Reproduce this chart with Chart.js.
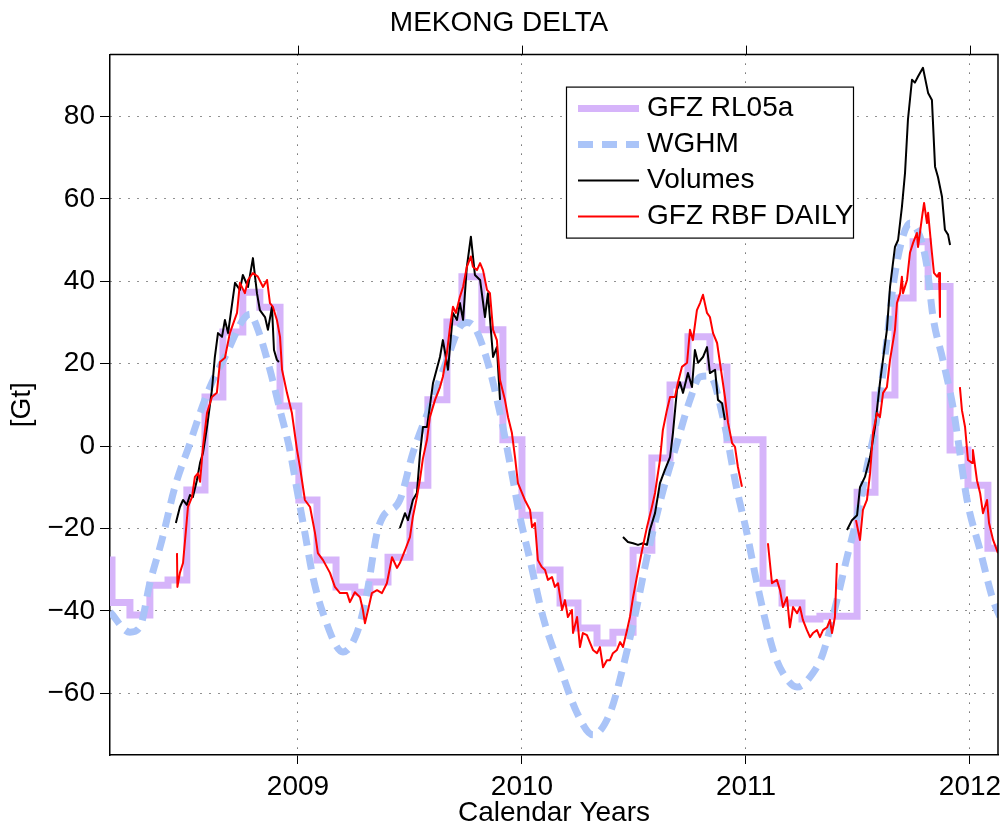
<!DOCTYPE html>
<html>
<head>
<meta charset="utf-8">
<script src="https://cdn.jsdelivr.net/npm/chart.js@4/dist/chart.umd.min.js"></script>
<style>
  html, body { margin: 0; padding: 0; background: #fff; }
  #wrap { width: 1000px; height: 827px; position: relative; }
</style>
</head>
<body>
<div id="wrap"><canvas id="tws"></canvas></div>
<script>
// axis ticks
const xTicks = [2009, 2010, 2011, 2012];
const yTicks = [-60, -40, -20, 0, 20, 40, 60, 80];

// GFZ RL05a monthly solution: start of each month and its value [Gt]
const rl05aYear = [2008.150, 2008.170, 2008.250, 2008.339, 2008.420, 2008.504, 2008.585, 2008.665, 2008.754, 2008.830,
  2008.920, 2009.004, 2009.085, 2009.170, 2009.254, 2009.321, 2009.402, 2009.500, 2009.580, 2009.665,
  2009.732, 2009.821, 2009.915, 2010.000, 2010.080, 2010.170, 2010.250, 2010.335, 2010.406, 2010.496,
  2010.580, 2010.661, 2010.741, 2010.839, 2010.915, 2011.076, 2011.161, 2011.250, 2011.330, 2011.496,
  2011.576, 2011.665, 2011.746, 2011.813, 2011.911, 2011.991, 2012.080, 2012.140];
const rl05aGt = [-27.7, -38, -41, -33.8, -32.5, -10.7, 11.9, 27.7, 37.3, 33.7,
  9.7, -13.1, -27.7, -34.2, -35.5, -33, -27, -9.5, 11.2, 30.1,
  41.1, 28.2, 1.5, -16.8, -30.1, -38.1, -44.2, -47.8, -45.2, -25.3,
  -2.9, 14.8, 26.5, 19.2, 1.5, -33.3, -38.1, -42, -41.3, -11.2,
  12.4, 35.9, 49.6, 38.7, -1, -9.5, -24.8, -24.8];

// WGHM model
const wghmYear = [2008.161, 2008.250, 2008.295, 2008.339, 2008.393, 2008.451, 2008.518, 2008.563, 2008.607, 2008.683,
  2008.754, 2008.786, 2008.817, 2008.875, 2008.920, 2008.964, 2008.996, 2009.031, 2009.067, 2009.112,
  2009.201, 2009.263, 2009.308, 2009.353, 2009.379, 2009.455, 2009.513, 2009.589, 2009.665, 2009.723,
  2009.754, 2009.790, 2009.844, 2009.902, 2009.946, 2009.991, 2010.036, 2010.094, 2010.170, 2010.246,
  2010.317, 2010.393, 2010.451, 2010.513, 2010.558, 2010.629, 2010.692, 2010.750, 2010.795, 2010.839,
  2010.897, 2010.960, 2011.004, 2011.049, 2011.121, 2011.165, 2011.228, 2011.299, 2011.344, 2011.406,
  2011.451, 2011.496, 2011.540, 2011.585, 2011.629, 2011.656, 2011.696, 2011.732, 2011.777, 2011.808,
  2011.835, 2011.879, 2011.924, 2011.942, 2011.987, 2012.045, 2012.103, 2012.134];
const wghmGt = [-40.3, -45.2, -43.9, -33.3, -22.8, -9.9, 0.7, 8, 14.3, 22.6,
  30.6, 32, 28.9, 18.5, 8.7, -1, -10.7, -21.1, -31.8, -40.6,
  -50, -45.4, -35.7, -21.1, -17.2, -13.1, -1.7, 9.5, 20.9, 28.9,
  30, 28.7, 20.9, 8, -4.1, -17.2, -27.7, -41.5, -53.7, -64.8,
  -70.1, -64.8, -53.7, -39, -27, -11, 0.7, 11.2, 16.8, 17,
  7, -10.7, -21.1, -33.3, -49.5, -55.1, -58.5, -55.1, -50.3, -37.4,
  -27, -17.2, -5.1, 7, 25.7, 38.6, 50, 54.1, 50.8, 43.5,
  31.3, 20.9, 9.5, 3.2, -13.1, -25.3, -37.4, -41.5];

// volumes, four flood seasons (null = no data)
const volumesYear = [2008.455, 2008.473, 2008.487, 2008.504, 2008.518, 2008.531, 2008.549, 2008.563, 2008.576, 2008.594,
  2008.616, 2008.629, 2008.643, 2008.661, 2008.674, 2008.688, 2008.719, 2008.741, 2008.754, 2008.777,
  2008.799, 2008.817, 2008.830, 2008.853, 2008.866, 2008.884, 2008.893, 2008.906, 2008.915,
  2009.200,
  2009.455, 2009.478, 2009.491, 2009.513, 2009.531, 2009.545, 2009.558, 2009.576, 2009.603, 2009.634,
  2009.647, 2009.670, 2009.692, 2009.710, 2009.723, 2009.737, 2009.754, 2009.772, 2009.790, 2009.813,
  2009.835, 2009.848, 2009.871, 2009.888, 2009.902,
  2010.200,
  2010.451, 2010.473, 2010.496, 2010.518, 2010.540, 2010.558, 2010.571, 2010.594, 2010.616, 2010.638,
  2010.661, 2010.674, 2010.692, 2010.705, 2010.719, 2010.741, 2010.759, 2010.772, 2010.786, 2010.808,
  2010.826, 2010.839, 2010.862, 2010.875, 2010.893, 2010.906,
  2011.200,
  2011.451, 2011.473, 2011.496, 2011.509, 2011.531, 2011.554, 2011.576, 2011.598, 2011.629, 2011.643,
  2011.665, 2011.679, 2011.696, 2011.710, 2011.723, 2011.741, 2011.754, 2011.768, 2011.790, 2011.813,
  2011.830, 2011.844, 2011.857, 2011.875, 2011.888, 2011.902, 2011.911];
const volumesGt = [-18.7, -14.8, -13.1, -14.3, -11.9, -12.4, -8.3, -4.1, -1.7, 4.6,
  13.6, 21.6, 27.4, 26.5, 30.6, 27.4, 39.6, 37.9, 41.5, 38.6,
  45.6, 37.1, 33, 31.3, 28.2, 33.8, 23.3, 20.9, 20.4,
  null,
  -19.9, -16.3, -18, -13.1, -11.4, -1.7, 4.6, 4.6, 15.3, 21.6,
  25.7, 18.5, 32.3, 30.6, 34.7, 30.6, 43.5, 50.8, 41.5, 40.3,
  31.3, 37.1, 21.6, 24, 11.2,
  null,
  -22.1, -23.3, -23.6, -24, -23.6, -24, -20.4, -16.3, -9, -5.8,
  -2.7, 3.2, 13.6, 15.5, 12.9, 17.7, 14.3, 23.3, 20.2, 21.6,
  24, 17.7, 18.5, 11.2, 10.4, 6.3,
  null,
  -20.4, -18, -16.8, -10, -7.5, -2.7, 4.6, 15.3, 28.2, 38.6,
  48.3, 50, 58, 66.3, 79.2, 88.9, 88.2, 89.7, 91.8, 85.7,
  84, 67.8, 65.3, 60.5, 52.5, 51.3, 48.8];

// GFZ RBF daily solution (null = no data)
const rbfYear = [2008.460, 2008.462, 2008.473, 2008.487, 2008.500, 2008.509, 2008.527, 2008.540, 2008.554, 2008.563,
  2008.576, 2008.594, 2008.616, 2008.638, 2008.652, 2008.674, 2008.696, 2008.728, 2008.741, 2008.763,
  2008.777, 2008.799, 2008.821, 2008.844, 2008.862, 2008.875, 2008.888, 2008.906, 2008.920, 2008.929,
  2008.951, 2008.973, 2008.996, 2009.009, 2009.031, 2009.054, 2009.076, 2009.089, 2009.112, 2009.143,
  2009.165, 2009.188, 2009.219, 2009.232, 2009.254, 2009.277, 2009.290, 2009.299, 2009.313, 2009.330,
  2009.353, 2009.375, 2009.397, 2009.420, 2009.442, 2009.455, 2009.478, 2009.500, 2009.513, 2009.531,
  2009.545, 2009.558, 2009.576, 2009.589, 2009.612, 2009.634, 2009.647, 2009.665, 2009.679, 2009.692,
  2009.705, 2009.723, 2009.737, 2009.754, 2009.772, 2009.781, 2009.799, 2009.813, 2009.826, 2009.844,
  2009.857, 2009.871, 2009.888, 2009.902, 2009.924, 2009.938, 2009.955, 2009.969, 2009.982, 2010.013,
  2010.036, 2010.045, 2010.058, 2010.071, 2010.089, 2010.103, 2010.116, 2010.134, 2010.147, 2010.161,
  2010.179, 2010.192, 2010.205, 2010.223, 2010.228, 2010.246, 2010.259, 2010.272, 2010.290, 2010.304,
  2010.317, 2010.335, 2010.348, 2010.362, 2010.379, 2010.393, 2010.406, 2010.424, 2010.438, 2010.451,
  2010.469, 2010.482, 2010.496, 2010.513, 2010.536, 2010.558, 2010.580, 2010.594, 2010.616, 2010.629,
  2010.647, 2010.661, 2010.683, 2010.696, 2010.714, 2010.737, 2010.750, 2010.763, 2010.781, 2010.795,
  2010.808, 2010.826, 2010.839, 2010.853, 2010.871, 2010.893, 2010.906, 2010.920, 2010.938, 2010.951,
  2010.964, 2010.982,
  2011.040,
  2011.098, 2011.116, 2011.138, 2011.152, 2011.165, 2011.183, 2011.196, 2011.210, 2011.228, 2011.241,
  2011.254, 2011.272, 2011.286, 2011.299, 2011.317, 2011.330, 2011.344, 2011.362, 2011.375, 2011.384,
  2011.397, 2011.406,
  2011.450,
  2011.491, 2011.509, 2011.522, 2011.540, 2011.554, 2011.567, 2011.585, 2011.598, 2011.612, 2011.629,
  2011.643, 2011.665, 2011.674, 2011.688, 2011.696, 2011.701, 2011.719, 2011.732, 2011.746, 2011.763,
  2011.768, 2011.786, 2011.795, 2011.808, 2011.813, 2011.830, 2011.839, 2011.853, 2011.862, 2011.866,
  2011.910,
  2011.955, 2011.964, 2011.978, 2011.991, 2012.009, 2012.013, 2012.031, 2012.045, 2012.058, 2012.076,
  2012.085, 2012.103, 2012.125];
const rbfGt = [-26, -34.2, -30.8, -28.4, -20.4, -14.8, -12.4, -7.5, -6.6, -8.7,
  -0.2, 8, 11.9, 12.9, 20.4, 21.4, 27.4, 32.3, 39.6, 37.1,
  40.3, 42, 41.1, 38.6, 40.3, 34.7, 33.8, 30.6, 26.5, 18.5,
  12.9, 8, -1, -5.1, -13.1, -14.8, -21.1, -26, -27.7, -30.8,
  -34.2, -35.7, -35.7, -37.9, -35.5, -36.7, -39.8, -43, -39.8, -35.7,
  -35, -35.7, -33.3, -27, -29.6, -28.4, -25.3, -22.1, -17.2, -12.4,
  -8, -3, 1.5, 7, 11.2, 14.3, 16.8, 22.6, 28.9, 33.8,
  32.3, 36.2, 38.6, 43.5, 46, 43.5, 42.7, 44.4, 42.7, 37.9,
  37.1, 28.2, 25.7, 16, 11.2, 7, 3.2, -2.7, -9, -13.1,
  -15.5, -19.7, -18.7, -27.7, -29.4, -30.1, -32.5, -31.8, -34.2, -33.3,
  -39.8, -37.4, -41.5, -39.8, -45.4, -41.5, -48.8, -45.4, -45.9, -47.8,
  -49.5, -50.3, -48.8, -53.7, -52, -52, -50.3, -49.5, -47.6, -48.8,
  -44.7, -41.5, -36.7, -31.8, -25.3, -19.7, -14.8, -11.4, -3.4, 3.9,
  8.7, 11.9, 11.9, 15.3, 19.2, 20.2, 28.2, 25.7, 33, 34.7,
  36.7, 32.3, 31.3, 27.4, 25, 16.8, 11.9, 5.6, 0.7, -0.2,
  -5.1, -9.9,
  null,
  -23.6, -33.3, -32.5, -35, -39.1, -36.7, -44, -39.1, -40.6, -39.1,
  -42.2, -44.7, -46.4, -45.4, -44.7, -46.4, -44.7, -44, -42.2, -45.4,
  -41.5, -28.4,
  null,
  -18, -22.8, -15.5, -13.1, -6.6, 3.2, 8, 7, 12.9, 14.3,
  20.9, 28.2, 34.7, 37.1, 41.1, 37.1, 40.3, 46.9, 49.3, 51.7,
  48.3, 55.6, 59, 54.1, 56.6, 46.9, 42, 41.1, 42, 31.3,
  null,
  14.3, 8.7, 4.6, -3.4, -4.1, -1, -8.3, -11.4, -16.3, -13.1,
  -18.7, -22.8, -26];

const FONT = "'Liberation Sans', Arial, Helvetica, sans-serif";

function toPoints(xs, ys) {
  return xs.map(function(x, i) { return {x: x, y: ys[i]}; });
}

// box around the axes plus the outward ticks on top
const frame = {
  id: 'frame',
  afterDraw: function(chart) {
    const ctx = chart.ctx;
    const a = chart.chartArea;
    const xs = chart.scales.x;
    ctx.save();
    ctx.strokeStyle = '#000';
    ctx.lineWidth = 1.5;
    ctx.beginPath();
    ctx.moveTo(a.left, a.top);
    ctx.lineTo(a.right, a.top);
    ctx.lineTo(a.right, a.bottom);
    ctx.stroke();
    ctx.lineWidth = 1;
    xs.ticks.forEach(function(t) {
      const px = Math.round(xs.getPixelForValue(t.value)) + 0.5;
      ctx.beginPath();
      ctx.moveTo(px, a.top - 9);
      ctx.lineTo(px, a.top);
      ctx.stroke();
    });
    ctx.restore();
  }
};

// legend box in the upper middle of the plot
const boxLegend = {
  id: 'boxLegend',
  afterDraw: function(chart) {
    const ctx = chart.ctx;
    const a = chart.chartArea;
    const left = a.left + 456, top = a.top + 32, w = 287, h = 151;
    const items = chart.data.datasets.slice().sort(function(p, q) { return p.legendRank - q.legendRank; });
    ctx.save();
    ctx.fillStyle = '#fff';
    ctx.fillRect(left, top, w, h);
    ctx.strokeStyle = '#000';
    ctx.lineWidth = 1.2;
    ctx.strokeRect(left + 0.5, top + 0.5, w, h);
    items.forEach(function(ds, i) {
      const y = top + 22 + i * 36;
      ctx.beginPath();
      ctx.strokeStyle = ds.borderColor;
      ctx.lineWidth = ds.borderWidth;
      ctx.setLineDash(ds.borderDash || []);
      ctx.moveTo(left + 12, y);
      ctx.lineTo(left + 73, y);
      ctx.stroke();
      ctx.setLineDash([]);
      ctx.fillStyle = '#000';
      ctx.font = '28px ' + FONT;
      ctx.textBaseline = 'middle';
      ctx.textAlign = 'left';
      ctx.fillText(ds.label, left + 81, y);
    });
    ctx.restore();
  }
};

const ctx = document.getElementById('tws');
new Chart(ctx, {
  type: 'line',
  data: {
    datasets: [
      {
        label: 'GFZ RBF DAILY', legendRank: 3, order: 1,
        data: toPoints(rbfYear, rbfGt),
        borderColor: '#ff0000', borderWidth: 2, pointRadius: 0,
        borderJoinStyle: 'round', spanGaps: false
      },
      {
        label: 'Volumes', legendRank: 2, order: 2,
        data: toPoints(volumesYear, volumesGt),
        borderColor: '#000000', borderWidth: 2, pointRadius: 0,
        borderJoinStyle: 'round', spanGaps: false
      },
      {
        label: 'WGHM', legendRank: 1, order: 3,
        data: toPoints(wghmYear, wghmGt),
        borderColor: 'rgb(170,196,248)', borderWidth: 7, borderDash: [15, 9],
        pointRadius: 0, tension: 0.35, cubicInterpolationMode: 'monotone'
      },
      {
        label: 'GFZ RL05a', legendRank: 0, order: 4,
        data: toPoints(rl05aYear, rl05aGt),
        borderColor: 'rgb(214,180,250)', borderWidth: 7, pointRadius: 0,
        stepped: 'before', borderJoinStyle: 'miter', borderCapStyle: 'butt'
      }
    ]
  },
  options: {
    responsive: true,
    maintainAspectRatio: false,
    animation: false,
    layout: { padding: { left: 0, right: 2, top: 0, bottom: 0 } },
    plugins: {
      legend: { display: false },
      tooltip: { enabled: false },
      title: {
        display: true,
        text: 'MEKONG DELTA',
        color: '#000',
        font: { family: FONT, size: 28, weight: 'normal' },
        padding: { top: 6, bottom: 15 }
      }
    },
    scales: {
      x: {
        type: 'linear',
        min: 2008.161,
        max: 2012.125,
        afterBuildTicks: function(scale) {
          scale.ticks = xTicks.map(function(v) { return {value: v}; });
        },
        afterFit: function(scale) {
          // fixed height, and let the last label run into the margin
          scale.height = 72;
          scale.paddingLeft = 0;
          scale.paddingRight = 0;
        },
        ticks: {
          color: '#000',
          padding: 6,
          maxRotation: 0,
          font: { family: FONT, size: 28 },
          callback: function(value) { return String(value); }
        },
        grid: { color: '#222', lineWidth: 1, tickLength: 9, tickColor: '#000', tickWidth: 1 },
        border: { display: true, color: '#000', width: 1.5, dash: [1, 8] },
        title: {
          display: true,
          text: 'Calendar Years',
          color: '#000',
          font: { family: FONT, size: 28, lineHeight: 1 },
          padding: { top: 0, bottom: 0 }
        }
      },
      y: {
        type: 'linear',
        min: -75,
        max: 95,
        afterBuildTicks: function(scale) {
          scale.ticks = yTicks.map(function(v) { return {value: v}; });
        },
        afterFit: function(scale) {
          scale.width = 110;
          scale.paddingTop = 0;
          scale.paddingBottom = 0;
        },
        ticks: {
          color: '#000',
          padding: 5,
          font: { family: FONT, size: 28 },
          callback: function(value) { return value < 0 ? '\u2212' + Math.abs(value) : String(value); }
        },
        grid: { color: '#222', lineWidth: 1, tickLength: 10, tickColor: '#000', tickWidth: 1 },
        border: { display: true, color: '#000', width: 1.5, dash: [1, 8] },
        title: {
          display: true,
          text: '[Gt]',
          color: '#000',
          font: { family: FONT, size: 28, lineHeight: 1 },
          padding: { top: 8, bottom: 0 }
        }
      }
    }
  },
  plugins: [frame, boxLegend]
});
</script>
</body>
</html>
